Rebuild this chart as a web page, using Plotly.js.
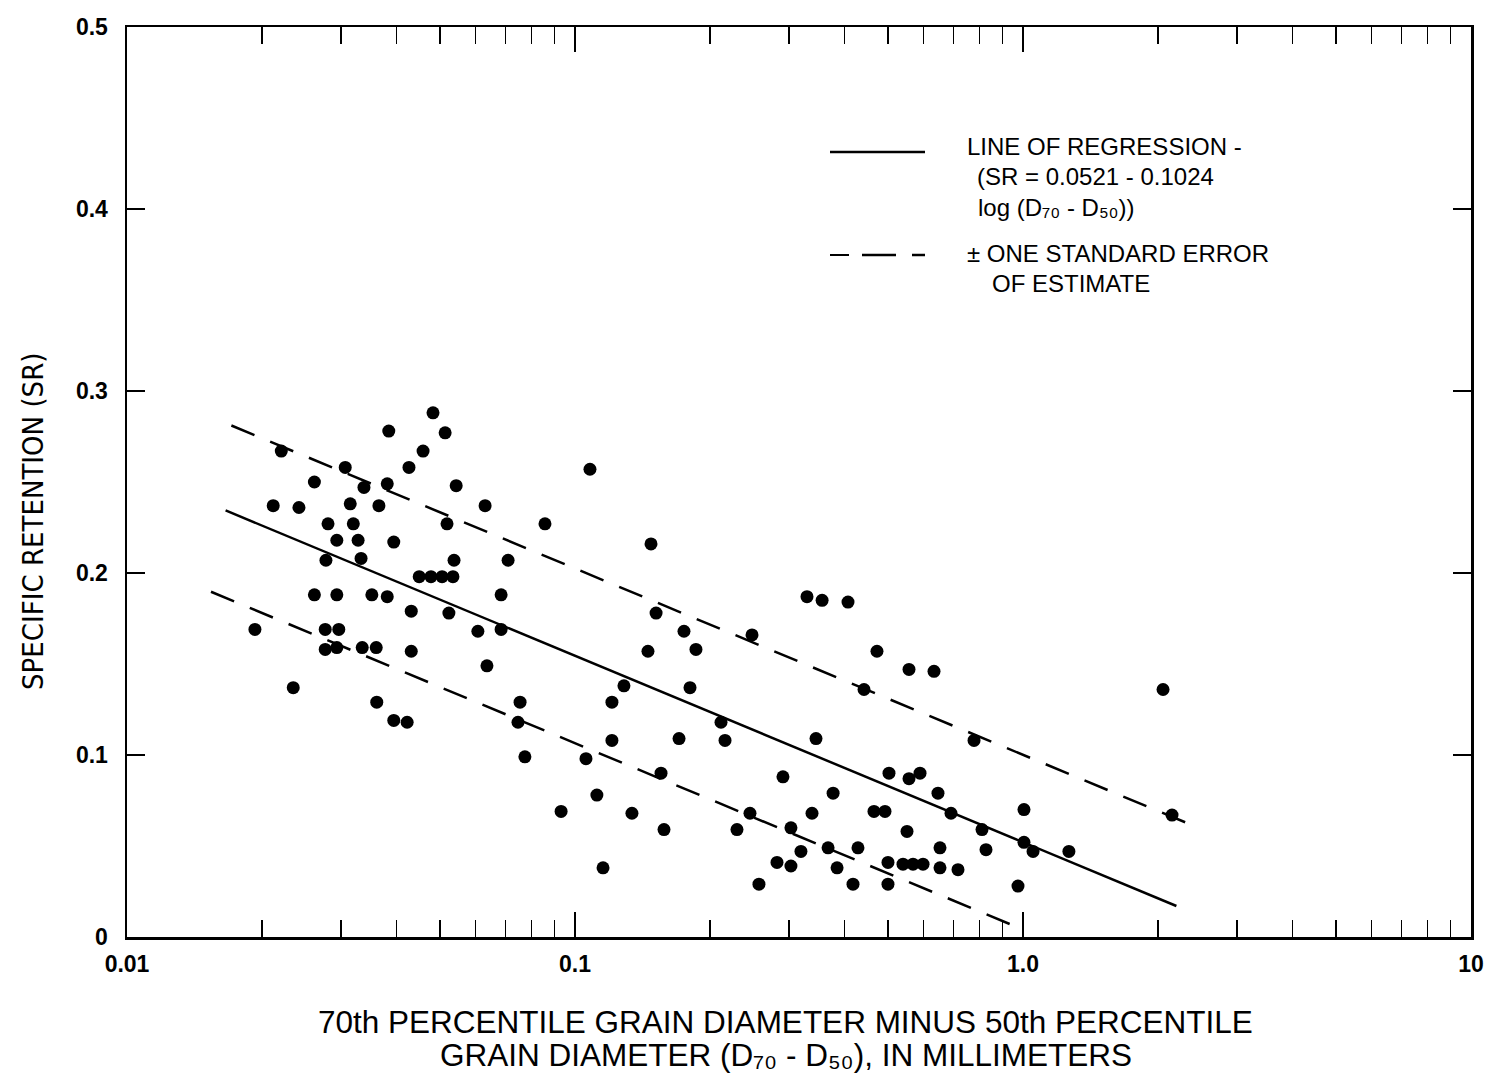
<!DOCTYPE html>
<html>
<head>
<meta charset="utf-8">
<script src="https://cdn.plot.ly/plotly-3.0.1.min.js"></script>
<style>
  html, body { margin: 0; padding: 0; background: #fff; }
  #chart { width: 1498px; height: 1079px; }
</style>
</head>
<body>
<div id="chart"></div>
<script>
// Grain-size spread (D70 - D50, mm) and specific retention for each sample
const grainSpread = [
  0.0193, 0.0212, 0.0221, 0.0235, 0.0242, 0.0262, 0.0262, 0.0277, 0.0277, 0.0278,
  0.0281, 0.0294, 0.0294, 0.0297, 0.0294, 0.0307, 0.0315, 0.0320, 0.0328, 0.0333,
  0.0335, 0.0338, 0.0352, 0.0360, 0.0361, 0.0365, 0.0381, 0.0381, 0.0384, 0.0394,
  0.0394, 0.0422, 0.0426, 0.0431, 0.0431, 0.0449, 0.0458, 0.0477, 0.0482, 0.0505,
  0.0513, 0.0518, 0.0523, 0.0534, 0.0537, 0.0543, 0.0607, 0.0630, 0.0636, 0.0684,
  0.0684, 0.0709, 0.0746, 0.0754, 0.0773, 0.0857, 0.0931, 0.1058, 0.1080, 0.1119,
  0.1155, 0.1209, 0.1209, 0.1286, 0.1340, 0.1455, 0.1478, 0.1517, 0.1556, 0.1580,
  0.1707, 0.1751, 0.1806, 0.1862, 0.2118, 0.2162, 0.2299, 0.2458, 0.2484, 0.2574,
  0.2824, 0.2912, 0.3034, 0.3034, 0.3194, 0.3295, 0.3381, 0.3451, 0.3561, 0.3672,
  0.3768, 0.3846, 0.4068, 0.4174, 0.4282, 0.4417, 0.4649, 0.4721, 0.4920, 0.4996,
  0.4996, 0.5022, 0.5397, 0.5509, 0.5566, 0.5566, 0.5682, 0.5890, 0.5982, 0.6329,
  0.6460, 0.6527, 0.6527, 0.6907, 0.7160, 0.7775, 0.8100, 0.8268, 0.9746, 1.005,
  1.005, 1.053, 1.266, 2.054, 2.151
];
const specificRetention = [
  0.169, 0.237, 0.267, 0.137, 0.236, 0.250, 0.188, 0.169, 0.158, 0.207,
  0.227, 0.218, 0.188, 0.169, 0.159, 0.258, 0.238, 0.227, 0.218, 0.208,
  0.159, 0.247, 0.188, 0.159, 0.129, 0.237, 0.249, 0.187, 0.278, 0.217,
  0.119, 0.118, 0.258, 0.179, 0.157, 0.198, 0.267, 0.198, 0.288, 0.198,
  0.277, 0.227, 0.178, 0.198, 0.207, 0.248, 0.168, 0.237, 0.149, 0.188,
  0.169, 0.207, 0.118, 0.129, 0.099, 0.227, 0.069, 0.098, 0.257, 0.078,
  0.038, 0.129, 0.108, 0.138, 0.068, 0.157, 0.216, 0.178, 0.090, 0.059,
  0.109, 0.168, 0.137, 0.158, 0.118, 0.108, 0.059, 0.068, 0.166, 0.029,
  0.041, 0.088, 0.060, 0.039, 0.047, 0.187, 0.068, 0.109, 0.185, 0.049,
  0.079, 0.038, 0.184, 0.029, 0.049, 0.136, 0.069, 0.157, 0.069, 0.041,
  0.029, 0.090, 0.040, 0.058, 0.147, 0.087, 0.040, 0.090, 0.040, 0.146,
  0.079, 0.049, 0.038, 0.068, 0.037, 0.108, 0.059, 0.048, 0.028, 0.070,
  0.052, 0.047, 0.047, 0.136, 0.067
];

// Regression SR = 0.0521 - 0.1024 log(D70 - D50), and its standard error band
const regIntercept = 0.0521;
const regSlope = -0.1024;
const stdError = 0.048;
const regSpan = [0.0166, 2.2];
const upperSpan = [0.0171, 2.41];
const lowerSpan = [0.0154, 0.99];

// Axis ticks
const xTickVals = [0.01, 0.1, 1, 10];
const xTickText = ['0.01', '0.1', '1.0', '10'];
const xMinorVals = [
  0.02, 0.03, 0.04, 0.05, 0.06, 0.07, 0.08, 0.09,
  0.2, 0.3, 0.4, 0.5, 0.6, 0.7, 0.8, 0.9,
  2, 3, 4, 5, 6, 7, 8, 9
];
const yTickVals = [0, 0.1, 0.2, 0.3, 0.4, 0.5];
const yTickText = ['0', '0.1', '0.2', '0.3', '0.4', '0.5'];

const regAt = (d, shift) => regIntercept + regSlope * Math.log10(d) + shift;

const lineStyle = { color: '#000', width: 2.5 };

const traces = [
  {
    type: 'scatter', mode: 'lines', hoverinfo: 'skip',
    x: regSpan, y: regSpan.map(d => regAt(d, 0)),
    line: lineStyle
  },
  {
    type: 'scatter', mode: 'lines', hoverinfo: 'skip',
    x: upperSpan, y: upperSpan.map(d => regAt(d, stdError)),
    line: Object.assign({}, lineStyle, { dash: '25px,17px' })
  },
  {
    type: 'scatter', mode: 'lines', hoverinfo: 'skip',
    x: lowerSpan, y: lowerSpan.map(d => regAt(d, -stdError)),
    line: Object.assign({}, lineStyle, { dash: '25px,17px' })
  },
  {
    type: 'scatter', mode: 'markers',
    x: grainSpread, y: specificRetention,
    marker: { color: '#000', size: 13, line: { width: 0 } }
  }
];

const sans = 'Liberation Sans, Arial, sans-serif';
const tickFont = { family: sans, size: 23, color: '#000', weight: 'bold' };
const legendFont = { family: sans, size: 24, color: '#000' };
const xTitleFont = { family: sans, size: 31.5, color: '#000' };

// Legend key drawn in paper space (plot spans 1344 x 910 px)
const px = v => (v - 127) / 1344;
const py = v => (937 - v) / 910;

const shapes = [
  { type: 'line', xref: 'paper', yref: 'paper', x0: px(830), x1: px(925), y0: py(152), y1: py(152), line: { color: '#000', width: 2.5 } },
  { type: 'line', xref: 'paper', yref: 'paper', x0: px(830), x1: px(849), y0: py(255), y1: py(255), line: { color: '#000', width: 2 } },
  { type: 'line', xref: 'paper', yref: 'paper', x0: px(862), x1: px(896), y0: py(255), y1: py(255), line: { color: '#000', width: 2.5 } },
  { type: 'line', xref: 'paper', yref: 'paper', x0: px(912), x1: px(925), y0: py(255), y1: py(255), line: { color: '#000', width: 2.5 } }
];

const legendLines = [
  { text: 'LINE OF REGRESSION -', x: px(965), y: py(147) },
  { text: '(SR = 0.0521 - 0.1024', x: px(975), y: py(177) },
  { text: 'log (D\u2087\u2080 - D\u2085\u2080))', x: px(976), y: py(208) },
  { text: '\u00B1 ONE STANDARD ERROR', x: px(965), y: py(253) },
  { text: 'OF ESTIMATE', x: px(990), y: py(283) }
].map(a => Object.assign({
  xref: 'paper', yref: 'paper', xanchor: 'left', yanchor: 'middle',
  showarrow: false, align: 'left', font: legendFont
}, a));

const titleLines = [
  { text: '70th PERCENTILE GRAIN DIAMETER MINUS 50th PERCENTILE', x: px(785), y: py(1022) },
  { text: 'GRAIN DIAMETER (D\u2087\u2080 - D\u2085\u2080), IN MILLIMETERS', x: px(786), y: py(1055) }
].map(a => Object.assign({
  xref: 'paper', yref: 'paper', xanchor: 'center', yanchor: 'middle',
  showarrow: false, align: 'center', font: xTitleFont
}, a));

const annotations = legendLines.concat(titleLines, [{
  xref: 'paper', yref: 'paper', x: px(33), y: py(522),
  xanchor: 'center', yanchor: 'middle', showarrow: false, textangle: -90,
  text: 'SPECIFIC RETENTION (SR)',
  font: { family: 'Liberation Sans Narrow, DejaVu Sans Condensed, Liberation Sans, sans-serif', size: 29, color: '#000' }
}]);

const layout = {
  width: 1498, height: 1079,
  margin: { l: 127, r: 27, t: 27, b: 142 },
  paper_bgcolor: '#fff', plot_bgcolor: '#fff',
  showlegend: false,
  xaxis: {
    type: 'log', range: [-2, 1],
    tickmode: 'array', tickvals: xTickVals, ticktext: xTickText,
    ticks: 'inside', ticklen: 25, tickwidth: 2, tickcolor: '#000',
    minor: { tickmode: 'array', tickvals: xMinorVals, ticks: 'inside', ticklen: 17, tickwidth: 1.5, tickcolor: '#000', showgrid: false },
    showline: true, linewidth: 2.5, linecolor: '#000', mirror: 'ticks',
    showgrid: false, zeroline: false,
    tickfont: tickFont, ticklabelstandoff: 5
  },
  yaxis: {
    range: [0, 0.5],
    tickmode: 'array', tickvals: yTickVals, ticktext: yTickText,
    ticks: 'inside', ticklen: 18, tickwidth: 2, tickcolor: '#000',
    showline: true, linewidth: 2.5, linecolor: '#000', mirror: 'ticks',
    showgrid: false, zeroline: false,
    tickfont: tickFont, ticklabelstandoff: 12
  },
  shapes: shapes,
  annotations: annotations
};

Plotly.newPlot('chart', traces, layout, { displayModeBar: false, staticPlot: true });
</script>
</body>
</html>
